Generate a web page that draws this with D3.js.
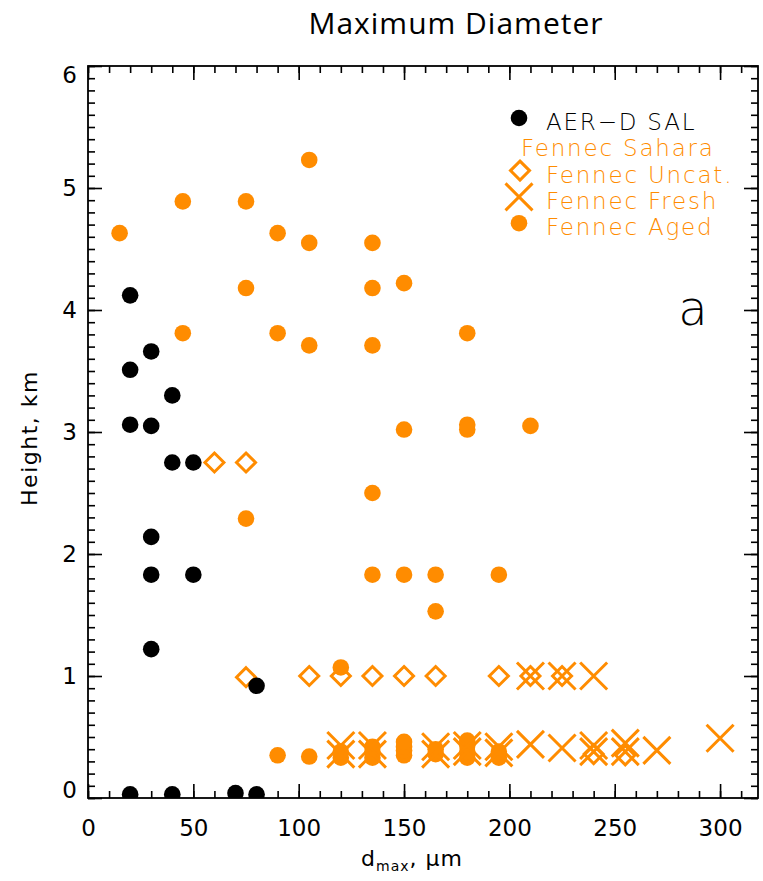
<!DOCTYPE html>
<html>
<head>
<meta charset="utf-8">
<script src="https://cdn.jsdelivr.net/npm/d3@7"></script>
<style>
  body { margin: 0; background: #fff; }
  svg { display: block; }
</style>
</head>
<body>
<svg id="chart" width="763" height="881"></svg>
<script>
// AER-D SAL points, d_max (um) and height (km)
var salD = [20, 20, 30, 40, 20, 30, 40, 50, 30, 30, 50, 30, 80, 20, 40, 70, 80]
var salH = [4.12, 3.51, 3.66, 3.30, 3.06, 3.05, 2.75, 2.75, 2.14, 1.83, 1.83, 1.22, 0.92, 0.03, 0.03, 0.04, 0.03]

// Fennec uncategorised (diamonds)
var uncat = [[60, 2.75], [75, 2.75], [75, 0.99], [105, 1.0], [120, 1.0], [135, 1.0], [150, 1.0],
             [165, 1.0], [195, 1.0], [210, 1.0], [225, 1.0], [240, 0.36], [255, 0.35]]

// Fennec fresh (crosses)
var fresh = [[120, 0.36], [120, 0.43], [135, 0.36], [135, 0.43], [165, 0.36], [165, 0.42],
             [180, 0.38], [180, 0.43], [195, 0.37], [195, 0.42], [210, 0.44], [225, 0.41],
             [240, 0.38], [240, 0.43], [255, 0.45], [255, 0.38], [270, 0.39], [300, 0.49],
             [210, 1.0], [225, 1.0], [240, 1.0]]

// Fennec aged (filled dots)
var aged = [[15, 4.63], [45, 4.89], [75, 4.89], [105, 5.23], [90, 4.63], [105, 4.55], [135, 4.55],
            [75, 4.18], [135, 4.18], [150, 4.22], [45, 3.81], [90, 3.81], [105, 3.71], [135, 3.71],
            [180, 3.81], [150, 3.02], [180, 3.06], [180, 3.02], [210, 3.05], [135, 2.50], [75, 2.29],
            [135, 1.83], [150, 1.83], [165, 1.83], [195, 1.83], [165, 1.53], [120, 1.07],
            [90, 0.35], [105, 0.34], [120, 0.33], [120, 0.38], [135, 0.33], [135, 0.38], [135, 0.42],
            [150, 0.35], [150, 0.39], [150, 0.42], [150, 0.46], [165, 0.36], [165, 0.40],
            [180, 0.33], [180, 0.38], [180, 0.43], [180, 0.47], [195, 0.33], [195, 0.38]]

var xMajor = [0, 50, 100, 150, 200, 250, 300]
var yMajor = [0, 1, 2, 3, 4, 5, 6]
var legendItems = [
    {label: "AER\u2212D SAL", kind: "sal"},
    {label: "Fennec Sahara", kind: "none"},
    {label: "Fennec Uncat.", kind: "uncat"},
    {label: "Fennec Fresh", kind: "fresh"},
    {label: "Fennec Aged", kind: "aged"}
]

var orange = "#ff8c00"
var svg = d3.select("#chart")

var x = d3.scaleLinear().domain([0, 318]).range([88, 758])
var y = d3.scaleLinear().domain([0, 6]).range([798, 66])

// title
svg.append("text")
    .attr("x", 456).attr("y", 34)
    .attr("text-anchor", "middle")
    .style("font-family", "Open Sans")
    .style("font-size", "30px")
    .style("letter-spacing", "1px")
    .text("Maximum Diameter")

// axes, ticks all point inwards
var minorX = d3.range(0, 319, 10)
var minorY = d3.range(0, 6.01, 0.1)
var tickFont = function(g) {
    g.selectAll("text").style("font-family", "DejaVu Sans").style("font-size", "23px").attr("fill", "#000")
    g.selectAll("line").attr("stroke", "#000").attr("stroke-width", 1.6)
    g.select(".domain").remove()
}

svg.append("g").attr("transform", "translate(0," + y(0) + ")")
    .call(d3.axisBottom(x).tickValues(minorX).tickSize(-7).tickFormat(""))
    .call(tickFont)
svg.append("g").attr("transform", "translate(0," + y(0) + ")")
    .call(d3.axisBottom(x).tickValues(xMajor).tickSize(-14).tickPadding(22).tickFormat(d3.format("d")))
    .call(tickFont)
svg.append("g").attr("transform", "translate(0," + y(6) + ")")
    .call(d3.axisTop(x).tickValues(minorX).tickSize(-7).tickFormat(""))
    .call(tickFont)
svg.append("g").attr("transform", "translate(0," + y(6) + ")")
    .call(d3.axisTop(x).tickValues(xMajor).tickSize(-14).tickFormat(""))
    .call(tickFont)

svg.append("g").attr("transform", "translate(" + x(0) + ",0)")
    .call(d3.axisLeft(y).tickValues(minorY).tickSize(-7).tickFormat(""))
    .call(tickFont)
var yAx = svg.append("g").attr("transform", "translate(" + x(0) + ",0)")
    .call(d3.axisLeft(y).tickValues(yMajor).tickSize(-14).tickPadding(11).tickFormat(d3.format("d")))
    .call(tickFont)
// end labels sit a little inside the frame, as in the original
yAx.selectAll(".tick text").attr("y", function(d) { return d == 6 ? 9 : (d == 0 ? -8 : 0) })

svg.append("g").attr("transform", "translate(" + x(318) + ",0)")
    .call(d3.axisRight(y).tickValues(minorY).tickSize(-7).tickFormat(""))
    .call(tickFont)
svg.append("g").attr("transform", "translate(" + x(318) + ",0)")
    .call(d3.axisRight(y).tickValues(yMajor).tickSize(-14).tickFormat(""))
    .call(tickFont)

svg.append("rect")
    .attr("x", x(0)).attr("y", y(6))
    .attr("width", x(318) - x(0)).attr("height", y(0) - y(6))
    .attr("fill", "none").attr("stroke", "#000").attr("stroke-width", 1.8)

// axis titles
svg.append("text")
    .attr("transform", "translate(37," + 438 + ") rotate(-90)")
    .attr("text-anchor", "middle")
    .style("font-family", "DejaVu Sans").style("font-size", "22px")
    .style("letter-spacing", "1.5px")
    .text("Height, km")

var xt = svg.append("text")
    .attr("x", 412).attr("y", 866)
    .attr("text-anchor", "middle")
    .style("font-family", "DejaVu Sans").style("font-size", "22px")
    .style("letter-spacing", "1px")
xt.append("tspan").text("d")
xt.append("tspan").attr("dy", 5).style("font-size", "14px").text("max")
xt.append("tspan").attr("dy", -5).text(", \u03bcm")

// plot area clip
svg.append("clipPath").attr("id", "plotclip")
    .append("rect")
    .attr("x", x(0)).attr("y", y(6))
    .attr("width", x(318) - x(0)).attr("height", y(0) - y(6))

var marks = svg.append("g").attr("clip-path", "url(#plotclip)")

function drawDot(g, cx, cy, col) {
    g.append("circle").attr("cx", cx).attr("cy", cy).attr("r", 8.3).attr("fill", col)
}
function drawDiamond(g, cx, cy) {
    var s = 9.5
    g.append("path")
        .attr("d", "M" + cx + "," + (cy - s) + "L" + (cx + s) + "," + cy + "L" + cx + "," + (cy + s) + "L" + (cx - s) + "," + cy + "Z")
        .attr("fill", "none").attr("stroke", orange).attr("stroke-width", 3)
}
function drawCross(g, cx, cy) {
    var s = 13.5
    g.append("path")
        .attr("d", "M" + (cx - s) + "," + (cy - s) + "L" + (cx + s) + "," + (cy + s) +
                   "M" + (cx - s) + "," + (cy + s) + "L" + (cx + s) + "," + (cy - s))
        .attr("fill", "none").attr("stroke", orange).attr("stroke-width", 3)
}

aged.forEach(function(d) { drawDot(marks, x(d[0]), y(d[1]), orange) })
uncat.forEach(function(d) { drawDiamond(marks, x(d[0]), y(d[1])) })
fresh.forEach(function(d) { drawCross(marks, x(d[0]), y(d[1])) })
salD.forEach(function(d, i) { drawDot(marks, x(d), y(salH[i]), "#000") })

// legend
var leg = svg.append("g")
legendItems.forEach(function(it, i) {
    var ly = 118 + i * 26.3
    var col = it.kind == "sal" ? "#000" : orange
    if (it.kind == "sal") drawDot(leg, 519, ly, "#000")
    if (it.kind == "aged") drawDot(leg, 519, ly, orange)
    if (it.kind == "uncat") drawDiamond(leg, 520, ly)
    if (it.kind == "fresh") drawCross(leg, 519, ly)
    leg.append("text")
        .attr("x", it.kind == "none" ? 521 : 546)
        .attr("y", ly + 12)
        .attr("fill", col)
        .style("font-family", "DejaVu Sans")
        .style("font-weight", 200)
        .style("font-size", "23px")
        .style("letter-spacing", "1.8px")
        .text(it.label)
})

svg.append("text")
    .attr("x", 693).attr("y", 325)
    .attr("text-anchor", "middle")
    .style("font-family", "DejaVu Sans").style("font-weight", 200)
    .style("font-size", "48px")
    .text("a")
</script>
</body>
</html>
